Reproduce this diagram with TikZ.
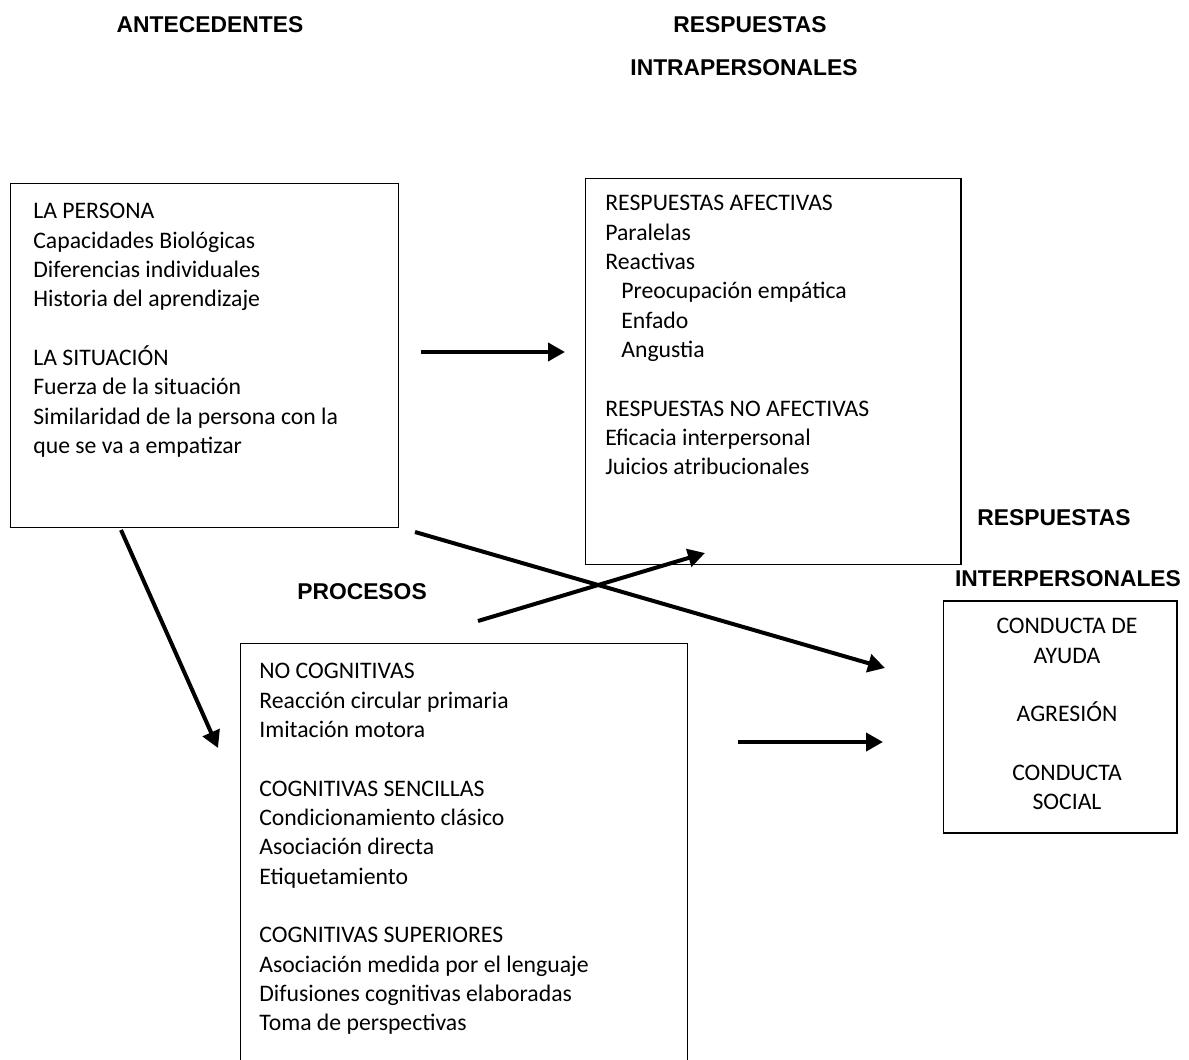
\documentclass[tikz,border=0pt]{standalone}
\usepackage{fontspec}
\setmainfont{Carlito}
\newfontfamily\headfont{Liberation Sans}
\usetikzlibrary{arrows.meta,positioning}

\begin{document}
\begin{tikzpicture}[x=0.02cm,y=-0.02cm,>={Triangle[length=0.34cm,width=0.36cm]},
  font=\fontsize{13.5pt}{16.7pt}\selectfont]
\tikzstyle{box}=[draw,line width=0.6pt,inner sep=0pt]
\tikzstyle{txt}=[anchor=north west,align=left,inner sep=0pt]
\tikzstyle{head}=[font=\headfont\bfseries\fontsize{13pt}{15pt}\selectfont,inner sep=0pt]
\tikzstyle{arr}=[->,line width=0.08cm]
\useasboundingbox (0,0) rectangle (1189,1060);
\clip (0,0) rectangle (1189,1060);
% headings
\node[head] (hante) at (210,25) {ANTECEDENTES};
\node[head] (hintra1) at (750,25) {RESPUESTAS};
\node[head] (hintra2) at (744,68) {INTRAPERSONALES};
\node[head] (hinter1) at (1054,518) {RESPUESTAS};
\node[head] (hinter2) at (1068,579) {INTERPERSONALES};
\node[head] (hproc) at (362,592) {PROCESOS};
% boxes
\node[box,minimum width=7.78cm,minimum height=6.9cm] (ante) at (204.5,355.5) {};
\node[box,minimum width=7.52cm,minimum height=7.74cm] (intra) at (773,371.5) {};
\node[box,minimum width=8.96cm,minimum height=8.8cm] (proc) at (464,863) {};
\node[box,minimum width=4.68cm,minimum height=4.64cm] (inter) at (1060,717) {};
% texts
\node[txt] (tante) at (33,203) {LA PERSONA\\Capacidades Biológicas\\Diferencias individuales\\Historia del aprendizaje\\[16.7pt]
  LA SITUACIÓN\\Fuerza de la situación\\Similaridad de la persona con la\\que se va a empatizar};
\node[txt] (tintra) at (605,195) {RESPUESTAS AFECTIVAS\\Paralelas\\Reactivas\\
  \hspace{0.32cm}Preocupación empática\\\hspace{0.32cm}Enfado\\\hspace{0.32cm}Angustia\\[16.7pt]
  RESPUESTAS NO AFECTIVAS\\Eficacia interpersonal\\Juicios atribucionales};
\node[txt] (tproc) at (259,663) {NO COGNITIVAS\\Reacción circular primaria\\Imitación motora\\[16.7pt]
  COGNITIVAS SENCILLAS\\Condicionamiento clásico\\Asociación directa\\Etiquetamiento\\[16.7pt]
  COGNITIVAS SUPERIORES\\Asociación medida por el lenguaje\\Difusiones cognitivas elaboradas\\Toma de perspectivas};
\node[txt,anchor=north,align=center] (tinter) at (1067,618) {CONDUCTA DE\\AYUDA\\[16.7pt]AGRESIÓN\\[16.7pt]CONDUCTA\\SOCIAL};
% arrows
\foreach \i/\sx/\sy/\ex/\ey in {1/421/352/565/352,2/415/532/885/668,3/478/621/705/553,4/121/530/218/748,5/738/742/883/742} {
  \coordinate (s\i) at (\sx,\sy);
  \coordinate (e\i) at (\ex,\ey);
  \draw[arr] (s\i) -- (e\i);
}
\end{tikzpicture}
\end{document}
